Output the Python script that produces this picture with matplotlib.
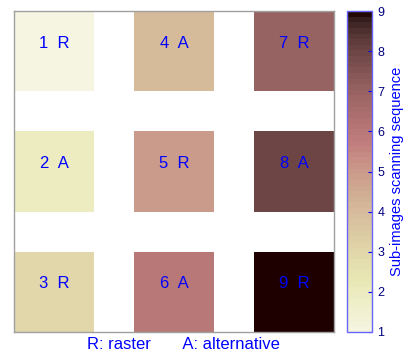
import numpy as np
import matplotlib
matplotlib.use("Agg")
import matplotlib.pyplot as plt
from matplotlib.colors import Normalize

plt.rcParams['font.family'] = ['Liberation Sans', 'DejaVu Sans']

# data
values = [1, 2, 3, 4, 5, 6, 7, 8, 9]
modes = ['R', 'A', 'R', 'A', 'R', 'A', 'R', 'A', 'R']
cols = [0, 0, 0, 1, 1, 1, 2, 2, 2]
rows = [0, 1, 2, 0, 1, 2, 0, 1, 2]
cbar_ticks = [1, 2, 3, 4, 5, 6, 7, 8, 9]

cmap = plt.get_cmap('pink_r')
norm = Normalize(vmin=0, vmax=9)

fig = plt.figure(figsize=(4.15, 3.57), dpi=100)
ax = fig.add_axes([14/415, 25/357, 320/415, 321/357])

for v, m, c, r in zip(values, modes, cols, rows):
    x0 = c * 3
    y0 = r * 3
    ax.bar(x0, 2, width=2, bottom=y0, align='edge', color=cmap(norm(v)), linewidth=0)
    ax.text(x0 + 1, y0 + 0.8, f"{v}  {m}", color='#0000ff', fontsize=12,
            ha='center', va='center')

ax.set_xlim(0, 8)
ax.set_ylim(8, 0)
ax.set_xticks([])
ax.set_yticks([])
for s in ax.spines.values():
    s.set_color('#a0a0a0')
    s.set_linewidth(1.0)

ax.text(0.53, -0.04, "R: raster       A: alternative", transform=ax.transAxes,
        color='#0000ff', fontsize=12, ha='center', va='center')

cax = fig.add_axes([347/415, 25/357, 25/415, 321/357])
sm = matplotlib.cm.ScalarMappable(norm=norm, cmap=cmap)
cb = fig.colorbar(sm, cax=cax, boundaries=np.linspace(1, 9, 58), ticks=cbar_ticks)
cb.outline.set_edgecolor('#6666ff')
cb.outline.set_linewidth(1.0)
cax.tick_params(axis='y', direction='in', length=3, color='#0000ff',
                labelcolor='#000080', labelsize=9, pad=4)
cb.set_label('Sub-images scanning sequence', color='#0000ff', fontsize=10.5, labelpad=4)

fig.savefig('out.png', dpi=100)
